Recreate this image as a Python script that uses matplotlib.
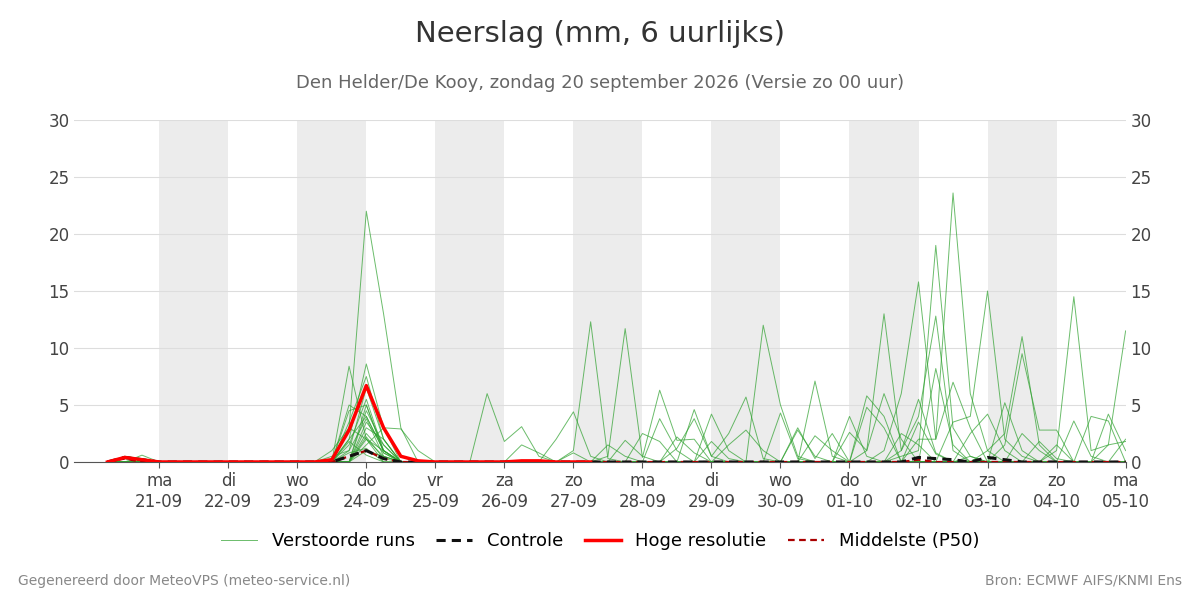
import numpy as np
import matplotlib.pyplot as plt
from datetime import datetime, timedelta

# 6-hourly time steps from 20-09 06:00 to 05-10 00:00
start = datetime(2026, 9, 20, 6)
n_steps = 60
times = [start + timedelta(hours=6 * i) for i in range(n_steps)]

# ensemble members: sparse (step index -> mm) events, zero elsewhere
runs = [
    {1: 0.5, 2: 0.3, 13: 1.0, 14: 3.0, 15: 22.0, 16: 13.0, 17: 3.0, 22: 6.0, 23: 1.8, 24: 3.1, 25: 0.5},
    {1: 0.3, 14: 8.4, 15: 2.0, 16: 0.5, 26: 2.0, 27: 4.4, 28: 0.5, 38: 12.0, 39: 5.0, 40: 0.5},
    {2: 0.6, 14: 2.0, 15: 8.6, 16: 3.0, 17: 2.9, 18: 1.0, 27: 1.0, 28: 12.3, 29: 0.3, 41: 7.1, 42: 0.5},
    {14: 4.5, 15: 5.0, 16: 1.0, 29: 0.5, 30: 11.7, 31: 0.4, 32: 6.3, 33: 1.9, 34: 2.0},
    {14: 3.5, 15: 7.5, 16: 2.0, 34: 4.6, 35: 0.5, 36: 2.5, 37: 5.7, 38: 0.3, 44: 5.8, 45: 4.0},
    {13: 0.5, 14: 1.0, 15: 6.5, 16: 2.0, 44: 1.0, 45: 13.0, 46: 1.0, 47: 5.5, 48: 0.8},
    {14: 2.0, 15: 4.0, 16: 1.0, 45: 1.0, 46: 6.0, 47: 15.8, 48: 2.0, 49: 7.0, 50: 3.0},
    {15: 3.5, 16: 1.5, 46: 0.5, 47: 1.0, 48: 19.0, 49: 3.0, 50: 0.5},
    {14: 5.0, 15: 4.0, 16: 1.0, 47: 2.0, 48: 2.0, 49: 23.6, 50: 6.0, 51: 1.0},
    {15: 2.5, 16: 0.8, 46: 1.0, 47: 4.0, 48: 12.8, 49: 1.0},
    {15: 3.0, 16: 2.0, 49: 3.5, 50: 4.0, 51: 15.0, 52: 2.0, 53: 0.5},
    {14: 1.5, 15: 5.5, 16: 1.0, 51: 1.0, 52: 2.5, 53: 11.0, 54: 1.5},
    {15: 1.0, 16: 0.5, 52: 1.5, 53: 9.5, 54: 2.8, 55: 2.8},
    {15: 2.0, 16: 1.0, 55: 1.0, 56: 14.5, 57: 1.0, 58: 1.5, 59: 11.5},
    {14: 1.0, 15: 3.8, 16: 0.5, 32: 3.8, 33: 1.0, 35: 4.2, 36: 1.0, 40: 3.0, 41: 0.3, 42: 2.5},
    {15: 1.5, 16: 3.0, 30: 1.9, 31: 0.5, 33: 2.2, 34: 0.8, 39: 4.3, 40: 0.3, 43: 4.0, 44: 0.5},
    {14: 3.0, 15: 2.0, 36: 1.5, 37: 2.8, 38: 1.0, 50: 2.5, 51: 4.2, 52: 1.0, 56: 3.6, 57: 0.5},
    {15: 4.5, 16: 1.5, 43: 2.6, 44: 1.0, 45: 6.0, 46: 2.0, 48: 8.2, 49: 1.5, 57: 4.0, 58: 3.6},
    {14: 0.8, 15: 1.2, 24: 1.5, 25: 0.8, 31: 2.5, 32: 1.8, 41: 2.3, 42: 1.0, 53: 2.5, 54: 1.0, 58: 4.2, 59: 1.0},
    {15: 2.2, 16: 0.3, 29: 1.5, 30: 0.5, 35: 1.8, 36: 0.3, 44: 4.8, 45: 3.0, 50: 0.5, 55: 1.5, 59: 2.0},
    {14: 1.8, 15: 0.6, 27: 0.8, 33: 1.2, 34: 3.8, 35: 0.5, 46: 2.5, 47: 1.5, 52: 5.2, 53: 1.0},
    {15: 5.0, 16: 0.8, 40: 2.8, 41: 0.5, 47: 3.5, 48: 0.7, 54: 1.8, 55: 0.3, 58: 1.5, 59: 1.8},
]

control = {1: 0.4, 2: 0.2, 14: 0.5, 15: 1.0, 16: 0.3, 47: 0.4, 48: 0.3, 49: 0.2, 51: 0.4, 52: 0.2}
hres = {1: 0.4, 2: 0.2, 13: 0.2, 14: 2.8, 15: 6.7, 16: 3.0, 17: 0.5, 18: 0.1, 24: 0.1, 25: 0.1}
hres_len = 29
p50 = {1: 0.3, 14: 0.5, 15: 1.0, 16: 0.3, 47: 0.2}


def expand(events, length=n_steps):
    vals = np.zeros(length)
    for k, v in events.items():
        vals[k] = v
    return vals


fig = plt.figure(figsize=(12, 6), dpi=100)
ax = fig.add_axes([0.062, 0.23, 0.876, 0.57])

# shaded alternate days
for d in range(21, 31 + 4, 2):
    day0 = datetime(2026, 9, 1) + timedelta(days=d - 1)
    ax.axvspan(day0, day0 + timedelta(days=1), color='#ececec', lw=0, zorder=0)

for i, r in enumerate(runs):
    ax.plot(times, expand(r), color='#2ca02c', lw=0.7, alpha=0.7, zorder=2,
            label='Verstoorde runs' if i == 0 else None)
ax.plot(times, expand(control), color='#111111', lw=2.2, ls=(0, (3, 2)), zorder=4, label='Controle')
ax.plot(times[:hres_len], expand(hres, hres_len), color='#ff0000', lw=2.5, zorder=5, label='Hoge resolutie')
ax.plot(times, expand(p50), color='#aa0000', lw=1.6, ls=(0, (3, 2)), zorder=3, label='Middelste (P50)')

ax.set_ylim(0, 30)
ax.set_xlim(datetime(2026, 9, 19, 18, 30), datetime(2026, 10, 5))
ax.set_yticks(range(0, 31, 5))
ax.grid(axis='y', color='#dddddd', lw=0.8)
ax.set_axisbelow(True)
for s in ax.spines.values():
    s.set_visible(False)
ax.spines['bottom'].set_visible(True)
ax.spines['bottom'].set_color('#555555')

dow = ['ma', 'di', 'wo', 'do', 'vr', 'za', 'zo']
ticks = [datetime(2026, 9, 21) + timedelta(days=k) for k in range(15)]
ax.set_xticks(ticks)
ax.set_xticklabels([f"{dow[t.weekday()]}\n{t:%d-%m}" for t in ticks])
ax.tick_params(axis='both', colors='#555555', labelsize=12, length=0)
ax.tick_params(axis='x', length=4)
for lab in ax.get_xticklabels() + ax.get_yticklabels():
    lab.set_color('#444444')

ax2 = ax.twinx()
ax2.set_ylim(0, 30)
ax2.set_yticks(range(0, 31, 5))
for s in ax2.spines.values():
    s.set_visible(False)
ax2.tick_params(axis='y', labelsize=12, length=0, labelcolor='#444444')

fig.text(0.5, 0.93, 'Neerslag (mm, 6 uurlijks)', ha='center', fontsize=21, color='#333333')
fig.text(0.5, 0.853, 'Den Helder/De Kooy, zondag 20 september 2026 (Versie zo 00 uur)',
         ha='center', fontsize=13, color='#666666')
fig.legend(loc='center', bbox_to_anchor=(0.5, 0.098), ncol=4, frameon=False, fontsize=13,
           handlelength=2, columnspacing=1.2)
fig.text(0.015, 0.025, 'Gegenereerd door MeteoVPS (meteo-service.nl)', fontsize=10, color='#888888')
fig.text(0.985, 0.025, 'Bron: ECMWF AIFS/KNMI Ens', fontsize=10, color='#888888', ha='right')

fig.savefig('out.png', dpi=100)
